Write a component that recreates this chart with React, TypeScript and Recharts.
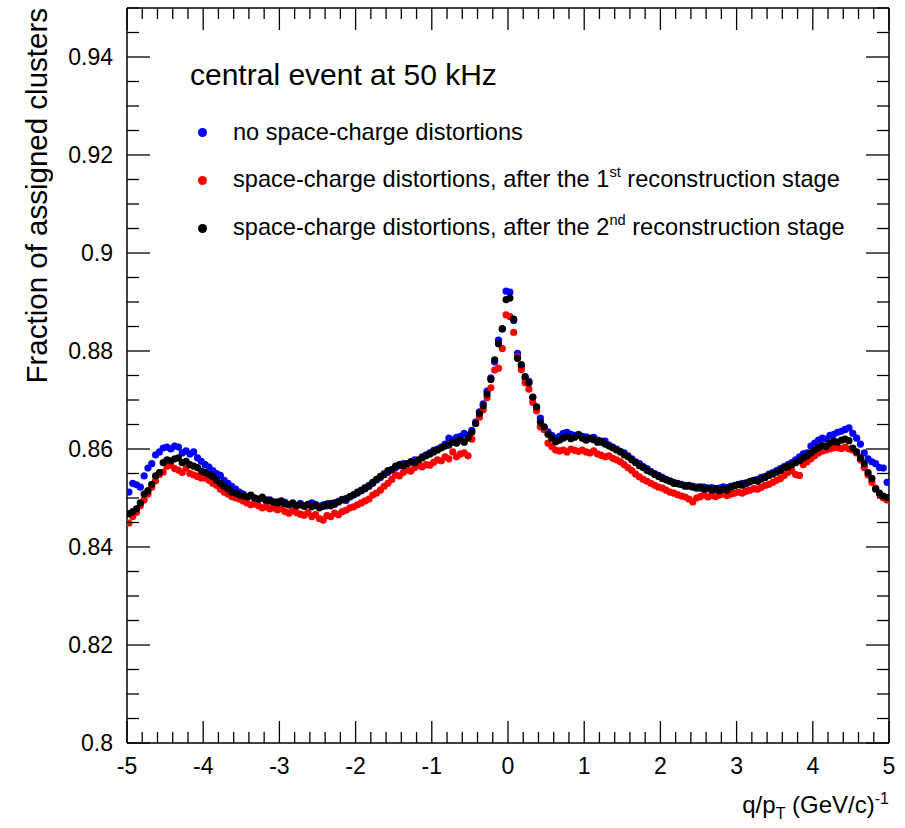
import React from 'react';
import { ScatterChart, Scatter, XAxis, YAxis, ReferenceLine } from 'recharts';

// bin centres: 200 bins of width 0.05 between -5 and 5
const binCount = 200;
const binCenters: number[] = Array.from({ length: binCount }, (_, i) => -4.975 + 0.05 * i);

// no space-charge distortions
const noDistortion: number[] = [
  0.8512, 0.8530, 0.8527, 0.8522, 0.8545, 0.8561, 0.8570, 0.8588, 0.8594, 0.8602,
  0.8604, 0.8600, 0.8606, 0.8604, 0.8592, 0.8596, 0.8590, 0.8594, 0.8582, 0.8575,
  0.8568, 0.8563, 0.8556, 0.8550, 0.8546, 0.8536, 0.8530, 0.8524, 0.8518, 0.8512,
  0.8508, 0.8502, 0.8504, 0.8500, 0.8497, 0.8499, 0.8494, 0.8496, 0.8490, 0.8492,
  0.8489, 0.8491, 0.8486, 0.8488, 0.8485, 0.8489, 0.8484, 0.8486, 0.8490, 0.8487,
  0.8483, 0.8486, 0.8484, 0.8489, 0.8487, 0.8493, 0.8497, 0.8495, 0.8502, 0.8506,
  0.8510, 0.8516, 0.8519, 0.8526, 0.8530, 0.8537, 0.8542, 0.8550, 0.8552, 0.8558,
  0.8562, 0.8566, 0.8570, 0.8568, 0.8574, 0.8578, 0.8576, 0.8584, 0.8588, 0.8592,
  0.8597, 0.8600, 0.8604, 0.8610, 0.8622, 0.8618, 0.8624, 0.8626, 0.8632, 0.8628,
  0.8638, 0.8655, 0.8676, 0.8692, 0.8718, 0.8745, 0.8778, 0.8822, 0.8845, 0.8922,
  0.8920, 0.8862, 0.8795, 0.8770, 0.8745, 0.8738, 0.8705, 0.8685, 0.8663, 0.8640,
  0.8635, 0.8628, 0.8622, 0.8626, 0.8632, 0.8634, 0.8630, 0.8628, 0.8630, 0.8626,
  0.8625, 0.8621, 0.8624, 0.8618, 0.8614, 0.8616, 0.8608, 0.8604, 0.8600, 0.8595,
  0.8592, 0.8586, 0.8580, 0.8574, 0.8570, 0.8564, 0.8560, 0.8554, 0.8550, 0.8546,
  0.8542, 0.8538, 0.8535, 0.8532, 0.8530, 0.8528, 0.8526, 0.8524, 0.8524, 0.8522,
  0.8520, 0.8522, 0.8519, 0.8521, 0.8518, 0.8520, 0.8523, 0.8521, 0.8524, 0.8526,
  0.8527, 0.8530, 0.8529, 0.8534, 0.8536, 0.8538, 0.8542, 0.8544, 0.8549, 0.8552,
  0.8556, 0.8560, 0.8564, 0.8568, 0.8572, 0.8578, 0.8584, 0.8590, 0.8592, 0.8606,
  0.8612, 0.8618, 0.8622, 0.8620, 0.8628, 0.8630, 0.8634, 0.8636, 0.8640, 0.8643,
  0.8632, 0.8622, 0.8610, 0.8592, 0.8580, 0.8574, 0.8570, 0.8562, 0.8561, 0.8532,
];

// space-charge distortions, after the 1st reconstruction stage
const firstStage: number[] = [
  0.8449, 0.8462, 0.8471, 0.8484, 0.8496, 0.8508, 0.8522, 0.8535, 0.8548, 0.8553,
  0.8565, 0.8567, 0.8560, 0.8557, 0.8552, 0.8561, 0.8550, 0.8547, 0.8544, 0.8541,
  0.8541, 0.8536, 0.8530, 0.8526, 0.8518, 0.8512, 0.8508, 0.8503, 0.8500, 0.8498,
  0.8494, 0.8490, 0.8486, 0.8488, 0.8484, 0.8480, 0.8482, 0.8478, 0.8480, 0.8476,
  0.8478, 0.8472, 0.8469, 0.8474, 0.8470, 0.8467, 0.8465, 0.8470, 0.8462, 0.8466,
  0.8458, 0.8455, 0.8464, 0.8462, 0.8469, 0.8466, 0.8472, 0.8475, 0.8480, 0.8482,
  0.8486, 0.8490, 0.8494, 0.8498, 0.8506, 0.8510, 0.8516, 0.8524, 0.8530, 0.8538,
  0.8547, 0.8545, 0.8552, 0.8557, 0.8555, 0.8562, 0.8566, 0.8564, 0.8568, 0.8567,
  0.8573, 0.8578, 0.8576, 0.8584, 0.8580, 0.8594, 0.8584, 0.8590, 0.8592, 0.8586,
  0.8620, 0.8652, 0.8665, 0.8680, 0.8705, 0.8725, 0.8761, 0.8765, 0.8805, 0.8874,
  0.8870, 0.8838, 0.8788, 0.8762, 0.8735, 0.8722, 0.8695, 0.8678, 0.8645, 0.8640,
  0.8612, 0.8605, 0.8598, 0.8596, 0.8598, 0.8594, 0.8600, 0.8597, 0.8595, 0.8598,
  0.8594, 0.8592, 0.8596, 0.8590, 0.8587, 0.8584, 0.8586, 0.8581, 0.8578, 0.8574,
  0.8568, 0.8562, 0.8556, 0.8549, 0.8543, 0.8538, 0.8534, 0.8530, 0.8526, 0.8522,
  0.8520, 0.8516, 0.8512, 0.8510, 0.8507, 0.8504, 0.8502, 0.8498, 0.8492, 0.8500,
  0.8503, 0.8506, 0.8502, 0.8505, 0.8503, 0.8506, 0.8508, 0.8505, 0.8508, 0.8510,
  0.8512, 0.8510, 0.8514, 0.8516, 0.8519, 0.8518, 0.8522, 0.8526, 0.8528, 0.8532,
  0.8536, 0.8540, 0.8546, 0.8552, 0.8556, 0.8548, 0.8546, 0.8568, 0.8574, 0.8580,
  0.8586, 0.8592, 0.8596, 0.8598, 0.8600, 0.8602, 0.8603, 0.8601, 0.8604, 0.8600,
  0.8598, 0.8592, 0.8578, 0.8562, 0.8547, 0.8532, 0.8520, 0.8508, 0.8500, 0.8496,
];

// space-charge distortions, after the 2nd reconstruction stage
const secondStage: number[] = [
  0.8468, 0.8472, 0.8478, 0.8490, 0.8508, 0.8515, 0.8528, 0.8545, 0.8552, 0.8572,
  0.8578, 0.8576, 0.8580, 0.8582, 0.8572, 0.8575, 0.8568, 0.8565, 0.8562, 0.8555,
  0.8552, 0.8548, 0.8544, 0.8536, 0.8530, 0.8524, 0.8519, 0.8512, 0.8510, 0.8506,
  0.8505, 0.8502, 0.8506, 0.8500, 0.8498, 0.8502, 0.8496, 0.8494, 0.8492, 0.8490,
  0.8494, 0.8488, 0.8486, 0.8490, 0.8484, 0.8486, 0.8483, 0.8487, 0.8482, 0.8485,
  0.8480, 0.8483, 0.8488, 0.8484, 0.8490, 0.8492, 0.8496, 0.8499, 0.8503, 0.8507,
  0.8512, 0.8515, 0.8521, 0.8524, 0.8532, 0.8538, 0.8544, 0.8548, 0.8556, 0.8558,
  0.8565, 0.8568, 0.8566, 0.8570, 0.8574, 0.8572, 0.8578, 0.8582, 0.8586, 0.8590,
  0.8594, 0.8598, 0.8602, 0.8606, 0.8608, 0.8614, 0.8612, 0.8618, 0.8614, 0.8622,
  0.8634, 0.8652, 0.8672, 0.8688, 0.8712, 0.8742, 0.8782, 0.8815, 0.8845, 0.8905,
  0.8908, 0.8865, 0.8785, 0.8772, 0.8748, 0.8735, 0.8706, 0.8686, 0.8655, 0.8645,
  0.8630, 0.8622, 0.8615, 0.8618, 0.8622, 0.8626, 0.8621, 0.8624, 0.8628, 0.8622,
  0.8618, 0.8622, 0.8619, 0.8614, 0.8616, 0.8610, 0.8606, 0.8602, 0.8598, 0.8594,
  0.8588, 0.8584, 0.8578, 0.8572, 0.8566, 0.8562, 0.8556, 0.8553, 0.8548, 0.8544,
  0.8540, 0.8537, 0.8534, 0.8530, 0.8529, 0.8527, 0.8524, 0.8526, 0.8522, 0.8520,
  0.8523, 0.8518, 0.8520, 0.8516, 0.8519, 0.8515, 0.8518, 0.8516, 0.8522, 0.8525,
  0.8528, 0.8526, 0.8531, 0.8533, 0.8536, 0.8534, 0.8539, 0.8542, 0.8546, 0.8549,
  0.8553, 0.8556, 0.8562, 0.8564, 0.8568, 0.8572, 0.8576, 0.8582, 0.8586, 0.8592,
  0.8598, 0.8603, 0.8607, 0.8605, 0.8612, 0.8616, 0.8614, 0.8618, 0.8620, 0.8617,
  0.8602, 0.8594, 0.8582, 0.8570, 0.8552, 0.8540, 0.8518, 0.8510, 0.8504, 0.8501,
];

const xMajorTicks = [-5, -4, -3, -2, -1, 0, 1, 2, 3, 4, 5];
const yMajorTicks = [0.8, 0.82, 0.84, 0.86, 0.88, 0.9, 0.92, 0.94];

const toPoints = (vals: number[]) => vals.map((y, i) => ({ x: binCenters[i], y }));

// minor ticks every 0.2 on x, every 0.005 on y
const xTicks: number[] = [];
for (let i = 0; i <= 50; i++) xTicks.push(parseFloat((-5 + 0.2 * i).toFixed(1)));
const yTicks: number[] = [];
for (let i = 0; i <= 30; i++) yTicks.push(parseFloat((0.8 + 0.005 * i).toFixed(3)));

const FONT = '"Liberation Sans", Arial, Helvetica, sans-serif';
const W = 905;
const H = 828;
const LEFT = 127;
const RIGHT = 889;
const TOP = 8;
const BOTTOM = 743;

const XTick = (props: any) => {
  const { x, payload } = props;
  const v = payload.value;
  const major = xMajorTicks.some(t => Math.abs(t - v) < 1e-6);
  const len = major ? 22 : 11;
  return (
    <g>
      <line x1={x} y1={BOTTOM} x2={x} y2={BOTTOM - len} stroke="#000" strokeWidth={1.3} />
      <line x1={x} y1={TOP} x2={x} y2={TOP + len} stroke="#000" strokeWidth={1.3} />
      {major && (
        <text x={x} y={BOTTOM + 31} textAnchor="middle" fontSize={23} fontFamily={FONT} fill="#000">
          {v}
        </text>
      )}
    </g>
  );
};

const YTick = (props: any) => {
  const { y, payload } = props;
  const v = payload.value;
  const major = yMajorTicks.some(t => Math.abs(t - v) < 1e-6);
  const len = major ? 23 : 12;
  return (
    <g>
      <line x1={LEFT} y1={y} x2={LEFT + len} y2={y} stroke="#000" strokeWidth={1.3} />
      <line x1={RIGHT} y1={y} x2={RIGHT - len} y2={y} stroke="#000" strokeWidth={1.3} />
      {major && (
        <text x={113} y={y + 8} textAnchor="end" fontSize={23} fontFamily={FONT} fill="#000">
          {v}
        </text>
      )}
    </g>
  );
};

const dot = (color: string) => (p: any) => <circle cx={p.cx} cy={p.cy} r={3.6} fill={color} />;

const supStyle: React.CSSProperties = { fontSize: '0.62em', verticalAlign: 'baseline', position: 'relative', top: '-0.62em' };

const legendItems = [
  { color: '#0000ff', label: <>no space-charge distortions</> },
  { color: '#ff0000', label: <>space-charge distortions, after the 1<span style={supStyle}>st</span> reconstruction stage</> },
  { color: '#000000', label: <>space-charge distortions, after the 2<span style={supStyle}>nd</span> reconstruction stage</> },
];

export default function App() {
  return (
    <div style={{ position: 'absolute', left: 0, top: 0, width: W, height: H, background: '#fff', fontFamily: FONT }}>
      <ScatterChart width={W} height={H} margin={{ top: TOP, right: W - RIGHT, bottom: H - BOTTOM - 30, left: LEFT - 60 }}>
        <XAxis
          type="number"
          dataKey="x"
          domain={[-5, 5]}
          ticks={xTicks}
          interval={0}
          tick={<XTick />}
          tickLine={false}
          height={30}
          axisLine={{ stroke: '#000', strokeWidth: 1.5 }}
          allowDataOverflow
        />
        <YAxis
          type="number"
          dataKey="y"
          domain={[0.8, 0.95]}
          ticks={yTicks}
          interval={0}
          tick={<YTick />}
          tickLine={false}
          width={60}
          axisLine={{ stroke: '#000', strokeWidth: 1.5 }}
          allowDataOverflow
        />
        <ReferenceLine x={5} stroke="#000" strokeWidth={1.5} />
        <ReferenceLine y={0.95} stroke="#000" strokeWidth={1.5} />
        <Scatter data={toPoints(noDistortion)} isAnimationActive={false} shape={dot('#0000ff')} />
        <Scatter data={toPoints(firstStage)} isAnimationActive={false} shape={dot('#ff0000')} />
        <Scatter data={toPoints(secondStage)} isAnimationActive={false} shape={dot('#000000')} />
      </ScatterChart>

      <div style={{ position: 'absolute', left: 190, top: 57, fontSize: 30, lineHeight: '36px', whiteSpace: 'nowrap' }}>
        central event at 50 kHz
      </div>
      {legendItems.map((it, i) => (
        <div key={i} style={{ position: 'absolute', left: 198, top: 117 + i * 48, height: 30, fontSize: 23.6, lineHeight: '30px', whiteSpace: 'nowrap', display: 'flex', alignItems: 'center' }}>
          <span style={{ display: 'inline-block', width: 9, height: 9, borderRadius: '50%', background: it.color, marginRight: 26 }} />
          <span>{it.label}</span>
        </div>
      ))}

      <div style={{ position: 'absolute', right: W - RIGHT, top: 784, fontSize: 24, lineHeight: '30px', whiteSpace: 'nowrap' }}>
        q/p<sub style={{ fontSize: 16 }}>T</sub> (GeV/c)<sup style={{ fontSize: 16 }}>-1</sup>
      </div>
      <div
        style={{
          position: 'absolute',
          left: 19,
          top: 8,
          width: 36,
          height: 400,
          display: 'flex',
          alignItems: 'flex-start',
          justifyContent: 'center',
        }}
      >
        <div style={{ writingMode: 'vertical-rl', transform: 'rotate(180deg)', fontSize: 29.5, whiteSpace: 'nowrap', lineHeight: '36px' }}>
          Fraction of assigned clusters
        </div>
      </div>
    </div>
  );
}
